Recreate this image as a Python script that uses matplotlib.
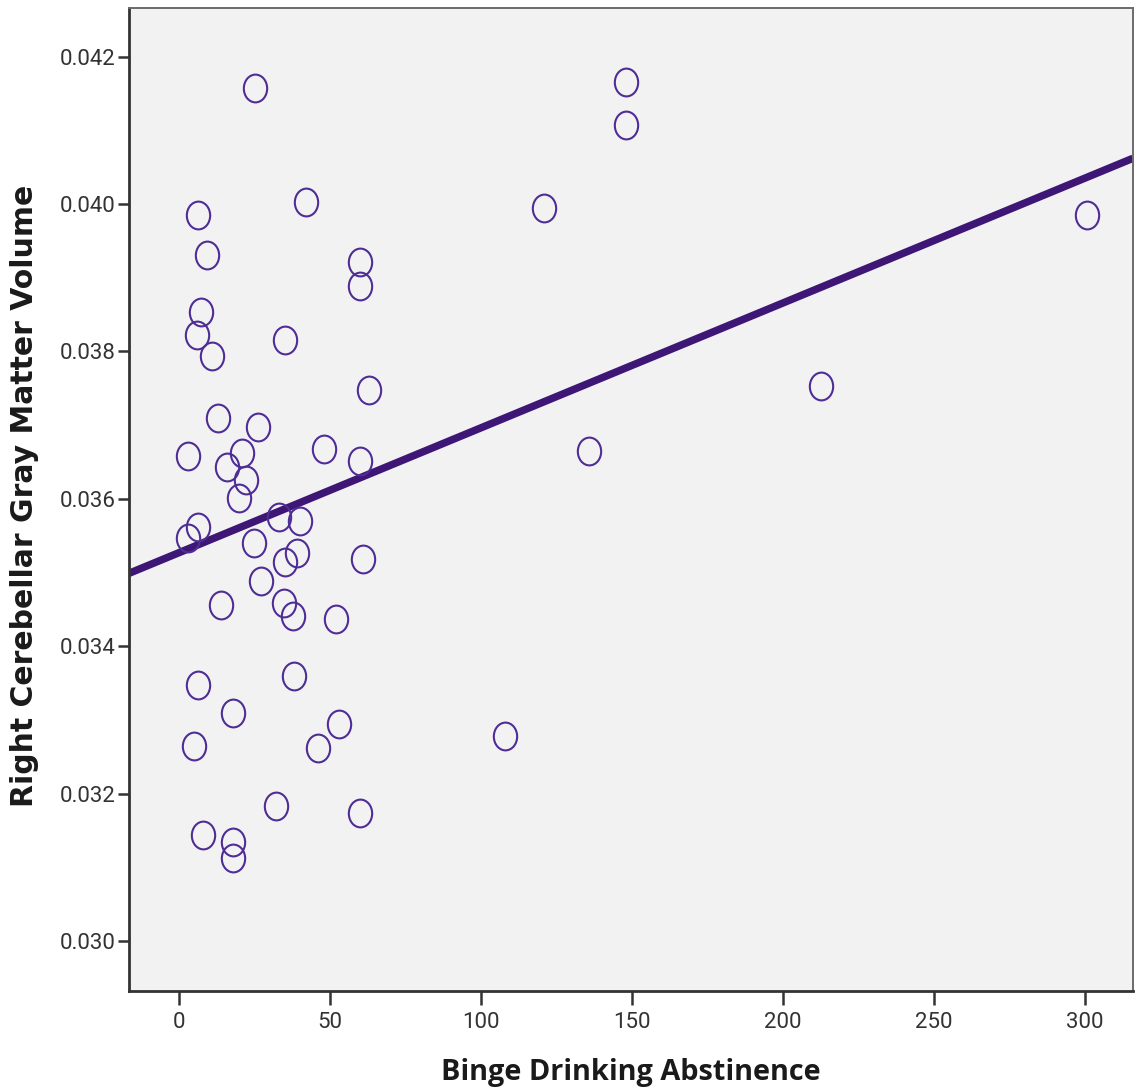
import numpy as np
import matplotlib
matplotlib.use("Agg")
import matplotlib.pyplot as plt
from matplotlib.path import Path
from matplotlib.transforms import Affine2D

# values
abstinence = [25.2, 148, 148, 120.9, 300.7, 6.3, 42, 9.3, 60, 60,
              7.3, 6, 10.9, 35.1, 62.9, 212.6, 12.9, 26.2, 3, 20.9,
              15.9, 22.2, 19.9, 48, 60, 135.8, 33.1, 40, 6.3, 3,
              24.8, 39, 35.1, 61, 27.2, 13.9, 34.8, 37.7, 52, 6.3,
              38, 17.9, 5, 53, 46, 107.9, 32.1, 60, 7.9, 17.9,
              17.9]
gray_volume = [0.04157, 0.04166, 0.04107, 0.03995, 0.03985, 0.03985, 0.04003, 0.03931, 0.03921, 0.03889,
               0.03853, 0.03822, 0.03794, 0.03815, 0.03747, 0.03753, 0.03710, 0.03697, 0.03658, 0.03662,
               0.03643, 0.03625, 0.03601, 0.03668, 0.03651, 0.03665, 0.03575, 0.03570, 0.03562, 0.03547,
               0.03540, 0.03526, 0.03514, 0.03518, 0.03488, 0.03456, 0.03459, 0.03441, 0.03437, 0.03347,
               0.03359, 0.03310, 0.03265, 0.03294, 0.03262, 0.03278, 0.03183, 0.03174, 0.03144, 0.03134,
               0.03112]

x_ticks = [0, 50, 100, 150, 200, 250, 300]
y_ticks = [0.030, 0.032, 0.034, 0.036, 0.038, 0.040, 0.042]

x = np.array(abstinence)
y = np.array(gray_volume)

fig = plt.figure(figsize=(11.39, 10.89), dpi=100)
ax = fig.add_axes([0.1135, 0.09, 0.8812, 0.9031])
ax.set_facecolor("#f2f2f2")

xlim = (-16.4, 315.9)
ylim = (0.029322, 0.042666)

# fit line (linear regression, like the SPSS "fit line at total")
slope, intercept = np.polyfit(x, y, 1)
xs = np.array(xlim)
ax.plot(xs, intercept + slope * xs, color="#3d1676", lw=5.4, solid_capstyle="butt", zorder=2)

# slightly tall open circles
ell = Path.unit_circle().transformed(Affine2D().scale(0.84, 1.0))
ax.plot(x, y, linestyle="none", marker=ell, markersize=20, markerfacecolor="none",
        markeredgecolor="#4f2d96", markeredgewidth=1.5, zorder=3)

ax.set_xlim(xlim)
ax.set_ylim(ylim)
ax.set_xticks(x_ticks)
ax.set_yticks(y_ticks)
ax.set_yticklabels(["%.3f" % v for v in y_ticks])

for lab in ax.get_xticklabels() + ax.get_yticklabels():
    lab.set_family(["Roboto", "DejaVu Sans"])
    lab.set_fontsize(16)
    lab.set_color("#333333")

ax.tick_params(axis="x", length=10, width=1.8, color="#333333", pad=5)
ax.tick_params(axis="y", length=8, width=1.8, color="#333333", pad=2)

for side in ["left", "bottom"]:
    ax.spines[side].set_linewidth(2)
    ax.spines[side].set_color("#333333")
for side in ["top", "right"]:
    ax.spines[side].set_linewidth(1.4)
    ax.spines[side].set_color("#6b6b6b")

ax.set_xlabel("Binge Drinking Abstinence", family=["Open Sans", "DejaVu Sans"], fontweight="bold",
              fontsize=20.8, color="#1a1a1a")
ax.set_ylabel("Right Cerebellar Gray Matter Volume", family="DejaVu Sans", fontweight="bold",
              fontsize=21.5, color="#1a1a1a")
ax.xaxis.set_label_coords(0.5, -0.068)
ax.yaxis.set_label_coords(-0.09, 0.503)

fig.savefig("out.png", dpi=100)
